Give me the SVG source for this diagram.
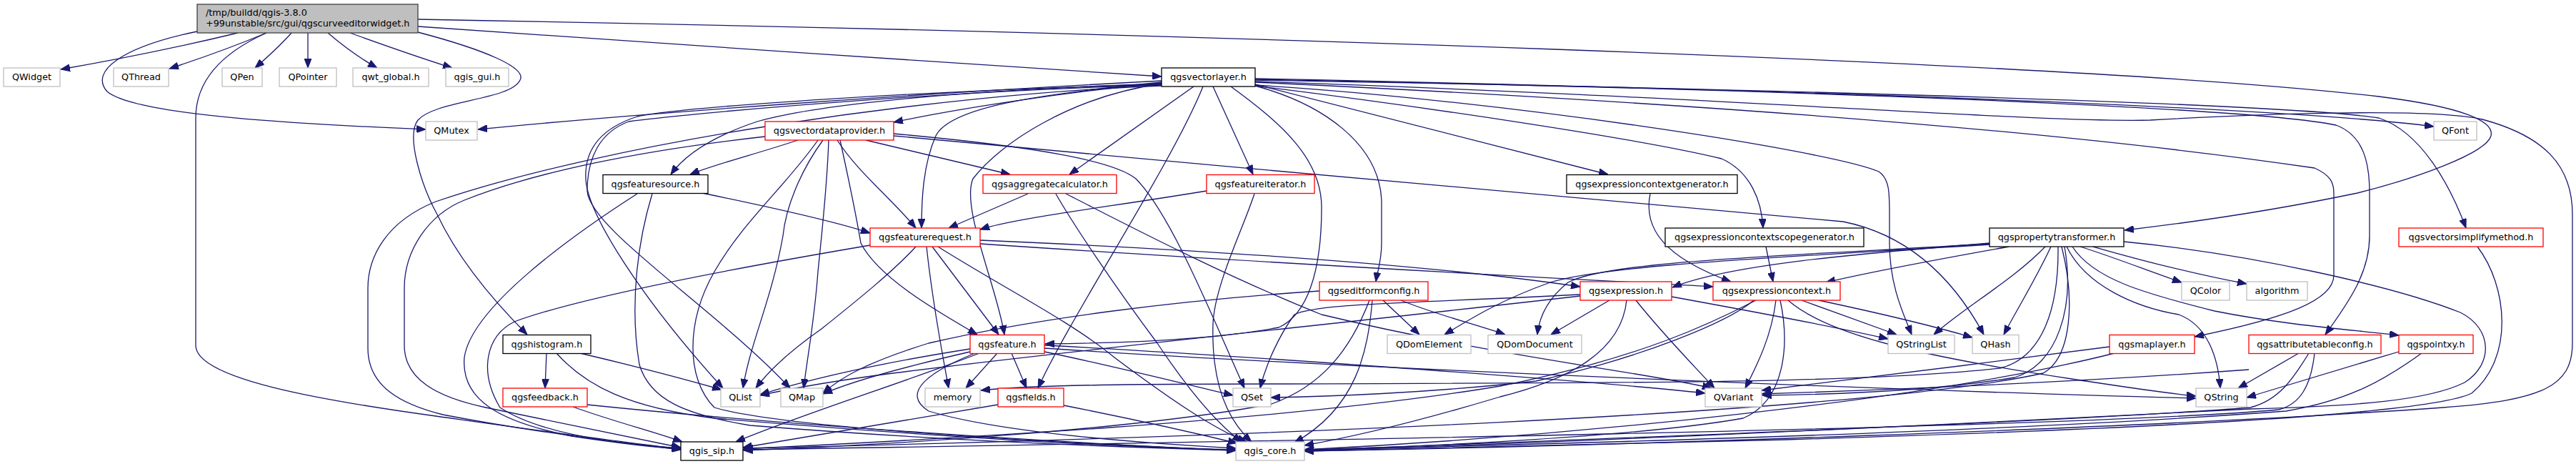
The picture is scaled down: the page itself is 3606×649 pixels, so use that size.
<svg xmlns="http://www.w3.org/2000/svg" width="3606" height="649" viewBox="0 0 3606 649">
<defs>
<marker id="a" viewBox="0 0 13 10" refX="13" refY="5" markerWidth="13" markerHeight="10" markerUnits="userSpaceOnUse" orient="auto"><path d="M0,0 L13,5 L0,10 z" fill="#191970" stroke="#191970" stroke-width="1"/></marker>
</defs>
<style>
.e path{fill:none;stroke:#191970;stroke-width:1.3;marker-end:url(#a)}
.n rect{fill:#ffffff;stroke-width:1.3}
.g rect{stroke:#bfbfbf}
.k rect{stroke:#000000}
.r rect{stroke:#ff0000}
text{font-family:"DejaVu Sans","Liberation Sans",sans-serif;font-size:12.8px;fill:#000000;text-anchor:middle}
.root rect{fill:#bfbfbf;stroke:#404040;stroke-width:1.3}
.root text{text-anchor:start}
</style>
<rect width="3606" height="649" fill="#ffffff"/>
<g id="connectors" class="e">
<path d="M333,46 C250,66 160,84 85,97"/>
<path d="M373,46 C330,64 280,82 237,96"/>
<path d="M408,46 C392,64 372,82 357,95"/>
<path d="M431,46 L431,95"/>
<path d="M459,46 C480,64 505,82 528,95"/>
<path d="M490,46 C540,64 595,83 633,95"/>
<path d="M276,44 C170,66 125,100 150,128 C190,162 430,174 596,181"/>
<path d="M373,46 C315,72 274,110 274,165 L274,483 C274,530 450,560 610,582 C760,603 880,620 953,628"/>
<path d="M585,37 C900,57 1300,88 1626,107"/>
<path d="M585,27 C1600,45 2900,85 3330,135 C3450,150 3492,170 3487,190 C3480,215 3380,250 3300,270 C3180,295 3060,312 2974,322"/>
<path d="M585,45 C680,70 738,95 728,112 C715,140 610,140 585,168 C568,190 590,260 612,300 C645,370 700,430 738,468"/>
<path d="M1626,113 C1300,130 900,158 669,181"/>
<path d="M1626,116 C1500,128 1350,150 1251,171"/>
<path d="M1626,117 C1300,128 1130,150 1060,170 C1000,190 960,215 939,244"/>
<path d="M1671,121 L1497,244"/>
<path d="M1698,121 L1754,244"/>
<path d="M1684,121 C1640,230 1500,440 1453,543"/>
<path d="M1626,115 C1450,132 1330,150 1310,190 C1292,230 1290,280 1290,319"/>
<path d="M1626,117 C1500,135 1400,200 1362,250 C1345,290 1395,400 1406,468"/>
<path d="M1723,121 C1790,170 1850,220 1850,290 C1850,380 1830,440 1790,458 C1700,475 1560,480 1463,481"/>
<path d="M1757,118 L2251,244"/>
<path d="M1757,120 C1850,145 1930,200 1934,280 L1934,340 C1934,365 1928,380 1926,394"/>
<path d="M1757,119 C2100,140 2560,210 2630,240 C2645,250 2645,270 2645,300 L2645,340 C2645,400 2665,440 2676,468"/>
<path d="M1757,120 C2000,150 2300,195 2410,222 C2450,240 2466,280 2468,319"/>
<path d="M1757,110 C2500,125 3200,150 3407,177"/>
<path d="M1757,111 C2500,125 3150,150 3270,175 C3310,190 3317,230 3317,270 L3317,330 C3317,380 3290,420 3255,468"/>
<path d="M1757,112 C2500,125 3200,145 3330,165 C3390,185 3430,260 3452,319"/>
<path d="M1757,115 C2400,145 2900,185 3240,235 C3262,245 3267,255 3267,270 L3267,385 C3267,420 3200,445 3072,471"/>
<path d="M1757,114 C2400,135 2850,172 3010,168 C3150,160 3400,150 3475,167 C3560,190 3601,230 3601,300 L3601,480 C3601,540 3560,560 3420,570 C3000,600 2200,625 1826,631"/>
<path d="M1626,118 C1300,126 950,150 892,163 C840,180 818,210 820,250 C822,300 900,420 1012,543"/>
<path d="M1626,119 C1300,128 950,160 880,170 C840,185 822,220 822,267 C825,320 1000,430 1106,543"/>
<path d="M1626,120 C1300,132 850,200 610,282 C540,310 515,360 515,403 L515,487 C515,540 560,565 620,580 C750,605 880,620 953,629"/>
<path d="M1071,191 C900,210 750,240 650,280 C600,300 566,350 566,403 L566,483 C566,530 610,555 680,570 C800,595 900,615 953,626"/>
<path d="M1117,196 C1060,215 1000,230 966,244"/>
<path d="M1152,196 C1120,240 1100,290 1096,330 C1080,420 1050,480 1040,543"/>
<path d="M1160,196 C1158,260 1150,330 1145,380 C1140,450 1130,500 1125,543"/>
<path d="M1145,196 C1100,260 1040,310 1000,380 C960,450 960,530 1000,570 C1100,600 1500,620 1730,630"/>
<path d="M1172,196 C1200,240 1250,280 1282,319"/>
<path d="M1212,196 L1414,244"/>
<path d="M1251,187 C1450,205 1560,225 1590,250 C1640,300 1700,450 1742,543"/>
<path d="M1251,190 C1700,232 2300,285 2580,310 C2680,330 2740,400 2777,468"/>
<path d="M1176,196 C1190,260 1200,310 1205,340 C1230,390 1320,440 1368,468"/>
<path d="M1439,271 L1328,319"/>
<path d="M1478,271 C1500,310 1560,400 1620,480 C1660,540 1700,590 1738,618"/>
<path d="M1492,271 C1550,300 1700,380 1850,440 C2100,500 2300,520 2396,543"/>
<path d="M1282,345 C1250,380 1200,420 1150,460 C1100,495 1075,520 1058,543"/>
<path d="M1297,345 C1305,420 1318,490 1328,543"/>
<path d="M1305,345 L1398,468"/>
<path d="M1313,345 C1400,400 1500,450 1560,500 C1640,560 1700,600 1745,618"/>
<path d="M1218,343 C1000,380 800,420 720,450 C680,470 670,520 700,570 C760,610 880,622 953,627"/>
<path d="M1372,336 C1700,350 2000,370 2212,401"/>
<path d="M1372,341 C1800,370 2200,390 2398,401"/>
<path d="M983,270 C1080,290 1170,310 1218,326"/>
<path d="M892,271 C800,330 660,430 650,500 C645,560 700,590 800,610 C880,622 920,626 953,628"/>
<path d="M913,271 C895,330 880,420 895,510 C910,560 960,580 1050,595 C1300,615 1550,625 1730,630"/>
<path d="M1689,267 C1550,290 1420,305 1372,321"/>
<path d="M1756,271 C1740,320 1700,400 1698,453 C1696,520 1710,580 1752,618"/>
<path d="M2310,271 C2300,320 2330,360 2423,394"/>
<path d="M2472,345 L2482,394"/>
<path d="M2785,340 C2600,355 2420,370 2341,402"/>
<path d="M2812,345 C2700,365 2620,380 2556,395"/>
<path d="M2785,342 C2500,360 2250,370 2170,395 C2100,420 2060,445 2022,468"/>
<path d="M2785,341 C2500,358 2250,365 2195,395 C2170,415 2155,440 2152,468"/>
<path d="M2863,345 C2820,390 2750,430 2707,468"/>
<path d="M2871,345 C2850,390 2825,430 2805,468"/>
<path d="M2890,345 C2905,430 2880,510 2820,528 C2700,548 2550,552 2467,553"/>
<path d="M2881,345 C2882,430 2860,500 2800,515 C2600,538 2200,535 1800,537 C1600,537 1450,538 1373,546"/>
<path d="M2886,345 C2905,420 2900,500 2860,522 C2600,580 1700,612 1041,627"/>
<path d="M2973,338 C3150,355 3350,400 3444,437 C3490,460 3490,510 3450,535 C3400,560 3300,568 3150,572 C2800,590 2200,620 1826,630"/>
<path d="M2930,345 C3000,365 3080,385 3145,397"/>
<path d="M2912,345 C2960,360 3010,380 3054,395"/>
<path d="M2901,345 C2930,390 3000,410 3100,435 C3200,455 3300,462 3358,469"/>
<path d="M2893,345 C2920,400 2990,430 3050,440 C3090,455 3105,500 3108,543"/>
<path d="M1936,420 L1987,468"/>
<path d="M1961,420 C2010,440 2070,455 2107,468"/>
<path d="M1921,420 C1915,490 1900,570 1812,619"/>
<path d="M1917,420 C1890,490 1850,540 1780,565 C1600,600 1250,622 1041,630"/>
<path d="M1847,407 C1650,420 1450,445 1300,480 C1220,505 1180,525 1152,550"/>
<path d="M2253,420 L2171,468"/>
<path d="M2290,420 C2330,470 2370,510 2400,543"/>
<path d="M2340,415 C2450,435 2560,455 2643,474"/>
<path d="M2277,420 C2270,490 2200,530 2100,555 C2000,585 1900,610 1826,623"/>
<path d="M2212,412 C1950,425 1840,425 1812,440 C1790,470 1772,510 1764,543"/>
<path d="M2212,414 C1900,450 1500,490 1250,522 C1150,535 1100,545 1064,553"/>
<path d="M2486,420 C2480,470 2460,510 2443,543"/>
<path d="M2492,420 C2505,480 2500,560 2440,585 C2300,610 2000,625 1826,629"/>
<path d="M2503,420 C2560,470 2700,500 2900,530 C2980,542 3030,550 3074,554"/>
<path d="M2522,420 L2655,468"/>
<path d="M2546,420 C2640,440 2720,460 2761,472"/>
<path d="M2458,420 C2400,450 2300,500 2100,540 C1800,590 1300,615 1041,628"/>
<path d="M2455,420 C2420,450 2300,500 2150,533 C2000,550 1850,555 1779,556"/>
<path d="M1396,494 L1352,543"/>
<path d="M1416,494 L1437,543"/>
<path d="M1462,492 C1550,510 1650,535 1726,553"/>
<path d="M1358,488 C1250,505 1150,525 1064,552"/>
<path d="M1358,492 C1280,510 1200,530 1152,551"/>
<path d="M1371,494 C1280,530 1120,580 1030,618"/>
<path d="M1365,494 C1300,520 1260,550 1300,575 C1400,605 1600,620 1730,627"/>
<path d="M1462,483 C1700,495 2200,530 2387,550"/>
<path d="M1462,487 C1800,510 2600,545 3074,557"/>
<path d="M765,494 L763,543"/>
<path d="M812,494 C880,510 950,528 1010,545"/>
<path d="M779,494 C820,540 880,570 1000,585 C1300,610 1550,625 1730,629"/>
<path d="M802,569 C860,590 920,605 955,618"/>
<path d="M822,566 C1100,595 1500,620 1730,630"/>
<path d="M1397,566 C1250,590 1120,612 1040,626"/>
<path d="M1489,567 C1580,585 1670,605 1732,620"/>
<path d="M2953,485 C2800,505 2600,530 2466,546"/>
<path d="M2960,494 C2700,560 2200,610 1826,629"/>
<path d="M3218,494 L3133,543"/>
<path d="M3232,494 C3210,530 3190,560 3150,570 C2900,590 2200,615 1826,630"/>
<path d="M3240,494 C3235,540 3220,565 3190,573 C2900,600 1600,620 1040,629"/>
<path d="M3148,517 C2900,535 2650,545 2466,551"/>
<path d="M3358,492 C3280,515 3200,540 3145,556"/>
<path d="M3390,494 C3340,530 3290,560 3200,575 C2800,605 2200,620 1826,630"/>
<path d="M3468,345 C3510,400 3520,500 3460,550 C3400,580 3000,600 2500,615 C2200,622 1950,628 1826,631"/>
</g>
<g id="n_root" class="root"><rect x="276" y="6" width="309" height="40"/><text x="288" y="21.5">/tmp/buildd/qgis-3.8.0</text><text x="288" y="36.5">+99unstable/src/gui/qgscurveeditorwidget.h</text></g>
<g id="n_QWidget" class="n g"><rect x="5" y="95" width="79" height="26"/><text x="44.5" y="112.3">QWidget</text></g>
<g id="n_QThread" class="n g"><rect x="159" y="95" width="77" height="26"/><text x="197.5" y="112.3">QThread</text></g>
<g id="n_QPen" class="n g"><rect x="311" y="95" width="56" height="26"/><text x="339" y="112.3">QPen</text></g>
<g id="n_QPointer" class="n g"><rect x="391" y="95" width="80" height="26"/><text x="431" y="112.3">QPointer</text></g>
<g id="n_qwt_global" class="n g"><rect x="494" y="95" width="106" height="26"/><text x="547" y="112.3">qwt_global.h</text></g>
<g id="n_qgis_gui" class="n g"><rect x="624" y="95" width="88" height="26"/><text x="668" y="112.3">qgis_gui.h</text></g>
<g id="n_qgsvectorlayer" class="n k"><rect x="1626" y="95" width="131" height="26"/><text x="1691.5" y="112.3">qgsvectorlayer.h</text></g>
<g id="n_QMutex" class="n g"><rect x="596" y="170" width="72" height="26"/><text x="632" y="187.3">QMutex</text></g>
<g id="n_qgsvectordataprovider" class="n r"><rect x="1071" y="170" width="180" height="26"/><text x="1161" y="187.3">qgsvectordataprovider.h</text></g>
<g id="n_QFont" class="n g"><rect x="3407" y="170" width="60" height="26"/><text x="3437" y="187.3">QFont</text></g>
<g id="n_qgsfeaturesource" class="n k"><rect x="844" y="244.5" width="147" height="26"/><text x="917.5" y="261.8">qgsfeaturesource.h</text></g>
<g id="n_qgsaggregatecalculator" class="n r"><rect x="1376" y="244.5" width="187" height="26"/><text x="1469.5" y="261.8">qgsaggregatecalculator.h</text></g>
<g id="n_qgsfeatureiterator" class="n r"><rect x="1689" y="244.5" width="151" height="26"/><text x="1764.5" y="261.8">qgsfeatureiterator.h</text></g>
<g id="n_qgsexpressioncontextgenerator" class="n k"><rect x="2193" y="244.5" width="239" height="26"/><text x="2312.5" y="261.8">qgsexpressioncontextgenerator.h</text></g>
<g id="n_qgsfeaturerequest" class="n r"><rect x="1218" y="319" width="154" height="26"/><text x="1295" y="336.3">qgsfeaturerequest.h</text></g>
<g id="n_qgsexpressioncontextscopegenerator" class="n k"><rect x="2331" y="319" width="278" height="26"/><text x="2470" y="336.3">qgsexpressioncontextscopegenerator.h</text></g>
<g id="n_qgspropertytransformer" class="n k"><rect x="2785" y="319" width="188" height="26"/><text x="2879" y="336.3">qgspropertytransformer.h</text></g>
<g id="n_qgsvectorsimplifymethod" class="n r"><rect x="3358" y="319" width="202" height="26"/><text x="3459" y="336.3">qgsvectorsimplifymethod.h</text></g>
<g id="n_qgseditformconfig" class="n r"><rect x="1847" y="394" width="152" height="26"/><text x="1923" y="411.3">qgseditformconfig.h</text></g>
<g id="n_qgsexpression" class="n r"><rect x="2212" y="394" width="128" height="26"/><text x="2276" y="411.3">qgsexpression.h</text></g>
<g id="n_qgsexpressioncontext" class="n r"><rect x="2398" y="394" width="178" height="26"/><text x="2487" y="411.3">qgsexpressioncontext.h</text></g>
<g id="n_QColor" class="n g"><rect x="3054" y="394" width="67" height="26"/><text x="3087.5" y="411.3">QColor</text></g>
<g id="n_algorithm" class="n g"><rect x="3145" y="394" width="85" height="26"/><text x="3187.5" y="411.3">algorithm</text></g>
<g id="n_qgshistogram" class="n k"><rect x="704" y="468.5" width="123" height="26"/><text x="765.5" y="485.8">qgshistogram.h</text></g>
<g id="n_qgsfeature" class="n r"><rect x="1358" y="468.5" width="104" height="26"/><text x="1410" y="485.8">qgsfeature.h</text></g>
<g id="n_QDomElement" class="n g"><rect x="1942" y="468.5" width="117" height="26"/><text x="2000.5" y="485.8">QDomElement</text></g>
<g id="n_QDomDocument" class="n g"><rect x="2083" y="468.5" width="131" height="26"/><text x="2148.5" y="485.8">QDomDocument</text></g>
<g id="n_QStringList" class="n g"><rect x="2643" y="468.5" width="93" height="26"/><text x="2689.5" y="485.8">QStringList</text></g>
<g id="n_QHash" class="n g"><rect x="2761" y="468.5" width="65" height="26"/><text x="2793.5" y="485.8">QHash</text></g>
<g id="n_qgsmaplayer" class="n r"><rect x="2953" y="468.5" width="119" height="26"/><text x="3012.5" y="485.8">qgsmaplayer.h</text></g>
<g id="n_qgsattributetableconfig" class="n r"><rect x="3148" y="468.5" width="185" height="26"/><text x="3240.5" y="485.8">qgsattributetableconfig.h</text></g>
<g id="n_qgspointxy" class="n r"><rect x="3358" y="468.5" width="104" height="26"/><text x="3410" y="485.8">qgspointxy.h</text></g>
<g id="n_qgsfeedback" class="n r"><rect x="704" y="543" width="118" height="26"/><text x="763" y="560.3">qgsfeedback.h</text></g>
<g id="n_QList" class="n g"><rect x="1009" y="543" width="55" height="26"/><text x="1036.5" y="560.3">QList</text></g>
<g id="n_QMap" class="n g"><rect x="1093" y="543" width="59" height="26"/><text x="1122.5" y="560.3">QMap</text></g>
<g id="n_memory" class="n g"><rect x="1295" y="543" width="77" height="26"/><text x="1333.5" y="560.3">memory</text></g>
<g id="n_qgsfields" class="n r"><rect x="1397" y="543" width="92" height="26"/><text x="1443" y="560.3">qgsfields.h</text></g>
<g id="n_QSet" class="n g"><rect x="1726" y="543" width="53" height="26"/><text x="1752.5" y="560.3">QSet</text></g>
<g id="n_QVariant" class="n g"><rect x="2387" y="543" width="79" height="26"/><text x="2426.5" y="560.3">QVariant</text></g>
<g id="n_QString" class="n g"><rect x="3074" y="543" width="71" height="26"/><text x="3109.5" y="560.3">QString</text></g>
<g id="n_qgis_sip" class="n k"><rect x="953" y="618" width="87" height="26"/><text x="996.5" y="635.3">qgis_sip.h</text></g>
<g id="n_qgis_core" class="n g"><rect x="1730" y="618" width="96" height="26"/><text x="1778" y="635.3">qgis_core.h</text></g>
</svg>
